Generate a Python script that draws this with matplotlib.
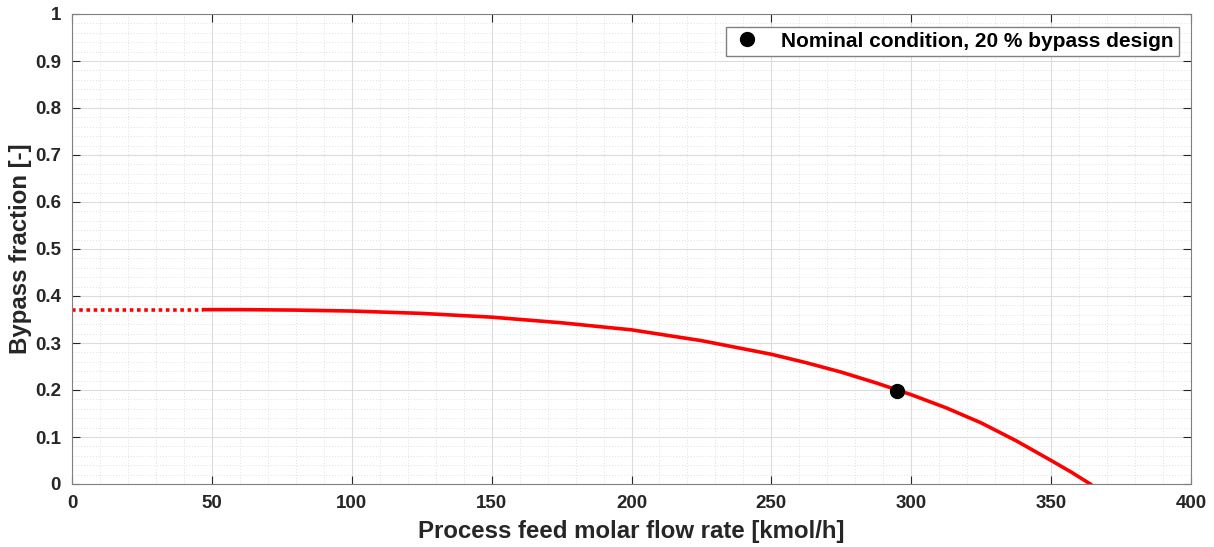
import numpy as np
import matplotlib.pyplot as plt
from matplotlib.ticker import MultipleLocator, FuncFormatter

plt.rcParams['font.family'] = ['Liberation Sans', 'DejaVu Sans']

# extrapolated (dotted) region and computed curve
x_extrap = [0, 47]
y_extrap = [0.371, 0.371]
x_flow = [47, 60, 80, 100, 125, 150, 175, 200, 225, 250, 262.5, 275, 287.5, 300, 312.5,
          325, 337.5, 350, 357, 364]
y_bypass = [0.371, 0.371, 0.370, 0.368, 0.363, 0.355, 0.343, 0.328, 0.305, 0.276, 0.258,
            0.238, 0.215, 0.190, 0.162, 0.130, 0.092, 0.050, 0.026, 0.0]
x_nominal = [295]
y_nominal = [0.197]

fig = plt.figure(figsize=(12.14, 5.47), dpi=100)
ax = fig.add_axes([72/1214, 63/547, 1119/1214, 470/547])

ax.plot(x_extrap, y_extrap, color='red', lw=2.6, ls=(0, (1, 1)))
ax.plot(x_flow, y_bypass, color='red', lw=2.6, solid_joinstyle='round')
ax.plot(x_nominal, y_nominal, 'o', color='black', ms=10,
        label='Nominal condition, 20 % bypass design', zorder=5)

ax.set_xlim(0, 400)
ax.set_ylim(0, 1)
ax.xaxis.set_major_locator(MultipleLocator(50))
ax.xaxis.set_minor_locator(MultipleLocator(10))
ax.yaxis.set_major_locator(MultipleLocator(0.1))
ax.yaxis.set_minor_locator(MultipleLocator(0.02))
ax.yaxis.set_major_formatter(FuncFormatter(lambda v, p: '%g' % round(v, 2)))

ax.grid(which='major', color='#dcdcdc', lw=0.8)
ax.grid(which='minor', color='#e0e0e0', lw=0.7, ls=(0, (1, 2)))
ax.set_axisbelow(True)

ax.tick_params(which='major', direction='in', length=6, top=True, right=True,
               labelsize=13.5, colors='#262626', width=0.8, pad=8)
ax.tick_params(which='minor', length=0)
for lab in ax.get_xticklabels() + ax.get_yticklabels():
    lab.set_fontweight('bold')
for s in ax.spines.values():
    s.set_color('#808080')

ax.set_xlabel('Process feed molar flow rate [kmol/h]', fontsize=17.3, fontweight='bold',
              color='#262626', labelpad=6)
ax.set_ylabel('Bypass fraction [-]', fontsize=17.3, fontweight='bold', color='#262626',
              labelpad=2)

leg = ax.legend(loc='upper right', prop={'weight': 'bold', 'size': 15},
                fancybox=False, framealpha=1, edgecolor='#808080', borderaxespad=0.6,
                handletextpad=0.8, borderpad=0.25, handlelength=1.6)

fig.savefig('out.png', dpi=100)
